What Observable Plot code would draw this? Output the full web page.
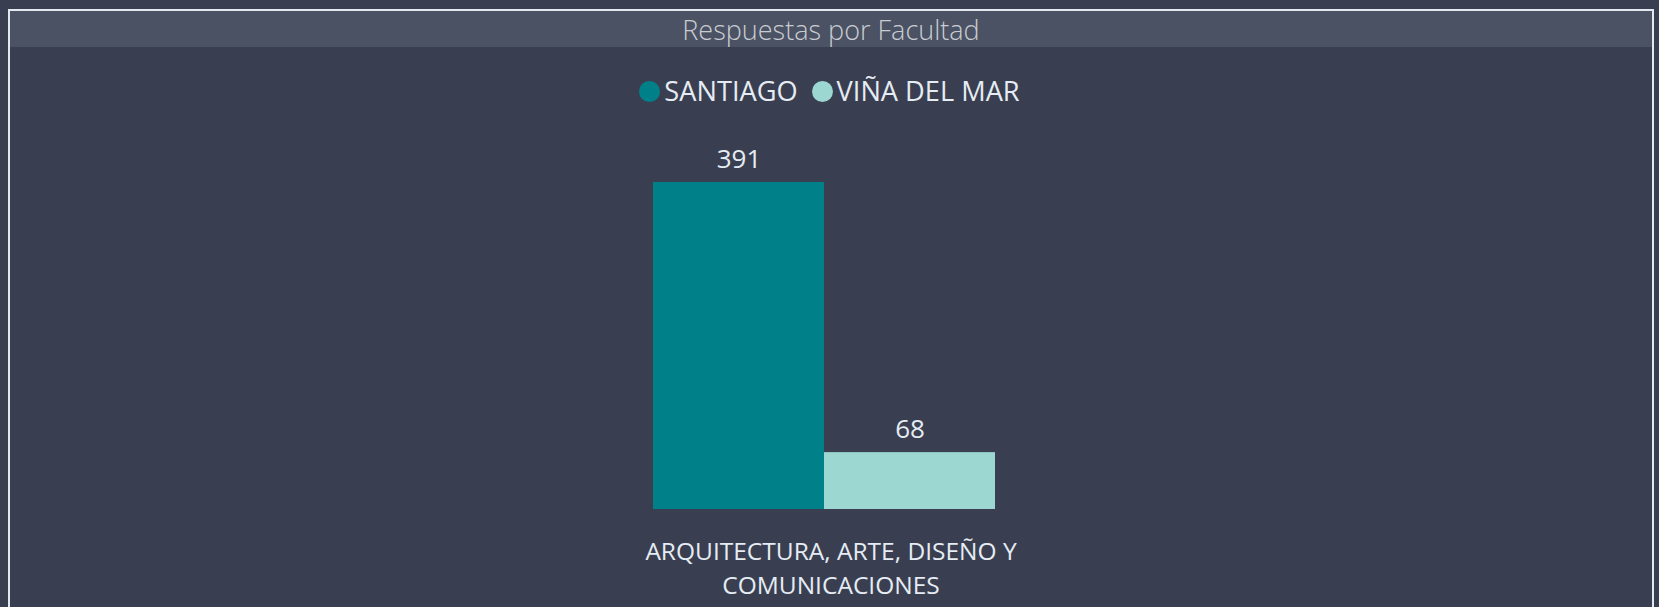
<!DOCTYPE html>
<html><head><meta charset="utf-8">
<script src="https://cdn.jsdelivr.net/npm/d3@7"></script>
<script src="https://cdn.jsdelivr.net/npm/@observablehq/plot@0.6"></script>
<style>
html,body{margin:0;padding:0;}
body{background:#393f51;width:1659px;height:607px;overflow:hidden;font-family:"Open Sans","Noto Sans",sans-serif;position:relative;}
#frame{position:absolute;left:8px;top:9px;width:1646px;height:660px;border:2px solid #e3e9f1;box-sizing:border-box;}
#title{position:absolute;left:0;top:0;right:0;height:36px;background:#4a5263;color:#c9ccd2;font-size:27px;font-weight:300;text-align:center;line-height:37px;}
#legend{position:absolute;top:77px;left:0;width:1659px;display:flex;justify-content:center;align-items:center;color:#e6ecf3;font-size:27.2px;line-height:28px;}
.item{display:flex;align-items:center;margin:0 7px;}
.dot{width:21px;height:21px;border-radius:50%;margin-right:4px;}
#chart{position:absolute;top:110px;left:0;}
</style>
</head><body>
<div id="frame"><div id="title">Respuestas por Facultad</div></div>
<div id="legend"></div>
<div id="chart"></div>
<script>
const categories = ["ARQUITECTURA, ARTE, DISEÑO Y COMUNICACIONES"];
const categoryLabels = ["ARQUITECTURA, ARTE, DISEÑO Y\nCOMUNICACIONES"];
const series = ["SANTIAGO", "VIÑA DEL MAR"];
const santiagoValues = [391];
const vinaValues = [68];
const colors = ["#00818a", "#9dd7d1"];

const rows = [];
categories.forEach((c, i) => {
  rows.push({facultad: c, sede: series[0], value: santiagoValues[i]});
  rows.push({facultad: c, sede: series[1], value: vinaValues[i]});
});

const legend = document.getElementById("legend");
series.forEach((s, i) => {
  const it = document.createElement("div");
  it.className = "item";
  const dot = document.createElement("span");
  dot.className = "dot";
  dot.style.background = colors[i];
  const t = document.createElement("span");
  t.textContent = s;
  it.appendChild(dot); it.appendChild(t);
  legend.appendChild(it);
});

const txt = "#e6ecf3";
const chart = Plot.plot({
  width: 1659, height: 497,
  marginLeft: 652, marginRight: 664, marginTop: 72, marginBottom: 98,
  style: {background: "transparent", color: txt, fontFamily: '"Open Sans","Noto Sans",sans-serif', overflow: "visible"},
  fx: {domain: categories, padding: 0, label: null},
  x: {domain: series, padding: 0, axis: null},
  y: {domain: [0, 391], axis: null},
  color: {domain: series, range: colors},
  marks: [
    Plot.barY(rows, {fx: "facultad", x: "sede", y: "value", fill: "sede"}),
    Plot.text(rows, {fx: "facultad", x: "sede", y: "value", text: d => String(d.value), lineAnchor: "bottom", dy: -15, fontSize: 26, fill: txt}),
    Plot.axisFx({anchor: "bottom", tickSize: 0, tickPadding: 26, fontSize: 24.5, lineHeight: 1.4, dx: 7, label: null, fill: txt,
      tickFormat: d => categoryLabels[categories.indexOf(d)]})
  ]
});
document.getElementById("chart").appendChild(chart);
</script>
</body></html>
